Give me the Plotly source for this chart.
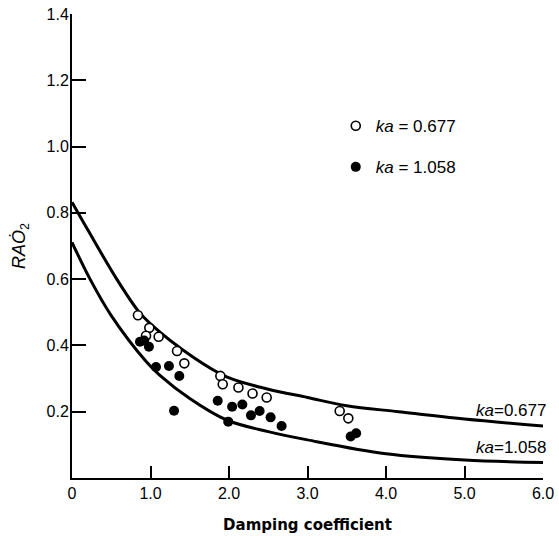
import plotly.graph_objects as go

# ---- data ----
open_x = [0.84, 0.985, 0.943, 1.104, 1.338, 1.431, 1.89, 1.92, 2.12, 2.30, 2.48, 3.41, 3.52]
open_y = [0.491, 0.453, 0.429, 0.426, 0.383, 0.346, 0.308, 0.283, 0.273, 0.255, 0.243, 0.202, 0.180]

fill_x = [0.866, 0.92, 0.98, 1.07, 1.235, 1.367, 1.30, 1.856, 2.04, 2.17, 2.28, 2.39, 2.53, 2.67, 1.99, 3.55, 3.62]
fill_y = [0.411, 0.415, 0.396, 0.335, 0.338, 0.308, 0.203, 0.233, 0.215, 0.222, 0.189, 0.202, 0.183, 0.157, 0.170, 0.125, 0.135]

curve_hi_x = [0, 0.21, 0.57, 0.84, 1.0, 1.54, 1.97, 2.5, 3.0, 3.5, 4.16, 5.0, 6.0]
curve_hi_y = [0.832, 0.745, 0.60, 0.505, 0.465, 0.365, 0.305, 0.268, 0.243, 0.218, 0.200, 0.178, 0.157]

curve_lo_x = [0, 0.23, 0.5, 0.95, 1.12, 1.5, 1.97, 2.5, 3.0, 4.0, 5.0, 6.0]
curve_lo_y = [0.711, 0.60, 0.49, 0.35, 0.31, 0.24, 0.175, 0.14, 0.115, 0.073, 0.054, 0.047]

x_ticks = [0, 1, 2, 3, 4, 5, 6]
x_ticktext = ["0", "1.0", "2.0", "3.0", "4.0", "5.0", "6.0"]
y_ticks = [0.2, 0.4, 0.6, 0.8, 1.0, 1.2, 1.4]
y_ticktext = ["0.2", "0.4", "0.6", "0.8", "1.0", "1.2", "1.4"]

label_hi = "<i>ka</i>=0.677"
label_lo = "<i>ka</i>=1.058"
legend_hi = "<i>ka</i> = 0.677"
legend_lo = "<i>ka</i> = 1.058"

FONT = "Liberation Sans"

fig = go.Figure()
fig.add_trace(go.Scatter(x=curve_hi_x, y=curve_hi_y, mode="lines",
                         line=dict(color="black", width=3, shape="spline", smoothing=1.0),
                         showlegend=False, hoverinfo="skip"))
fig.add_trace(go.Scatter(x=curve_lo_x, y=curve_lo_y, mode="lines",
                         line=dict(color="black", width=3, shape="spline", smoothing=1.0),
                         showlegend=False, hoverinfo="skip"))
fig.add_trace(go.Scatter(x=open_x, y=open_y, mode="markers", name=legend_hi,
                         legendgroup="a",
                         marker=dict(symbol="circle", size=9, color="white",
                                     line=dict(color="black", width=1.6))))
fig.add_trace(go.Scatter(x=fill_x, y=fill_y, mode="markers", name=legend_lo,
                         legendgroup="b",
                         marker=dict(symbol="circle", size=10, color="black",
                                     line=dict(color="black", width=0))))

fig.add_annotation(x=1.01, y=0.204, xref="paper", yref="y", text=label_hi, showarrow=False,
                   xanchor="right", yanchor="middle", font=dict(size=17, color="black", family=FONT))
fig.add_annotation(x=1.01, y=0.093, xref="paper", yref="y", text=label_lo, showarrow=False,
                   xanchor="right", yanchor="middle", font=dict(size=17, color="black", family=FONT))

fig.update_layout(
    width=559, height=536,
    margin=dict(l=72, r=16, t=14, b=58),
    paper_bgcolor="white", plot_bgcolor="white",
    font=dict(family=FONT, size=16, color="black"),
    legend=dict(x=0.56, y=0.797, xanchor="left", yanchor="top",
                bgcolor="rgba(0,0,0,0)", borderwidth=0,
                font=dict(size=17, family=FONT, color="black"), tracegroupgap=16, itemwidth=30),
    xaxis=dict(range=[0, 6], tickvals=x_ticks, ticktext=x_ticktext,
               ticks="inside", ticklen=12, tickwidth=1.5, tickcolor="black",
               tickfont=dict(size=16, color="black"), automargin=False,
               showline=True, linecolor="black", linewidth=2,
               showgrid=False, zeroline=False,
               title=dict(text="<b>Damping coefficient</b>", standoff=18,
                          font=dict(size=15, family="DejaVu Sans", color="black"))),
    yaxis=dict(range=[0, 1.4], tickvals=y_ticks, ticktext=y_ticktext,
               ticks="inside", ticklen=14, tickwidth=1.5, tickcolor="black",
               tickfont=dict(size=16, color="black"), ticklabelstandoff=-2,
               automargin=False,
               showline=True, linecolor="black", linewidth=2,
               showgrid=False, zeroline=False,
               title=dict(text="<i>RAȮ</i><sub>2</sub>", standoff=16,
                          font=dict(size=18, family=FONT, color="black"))),
)

fig.write_html("out.html")
